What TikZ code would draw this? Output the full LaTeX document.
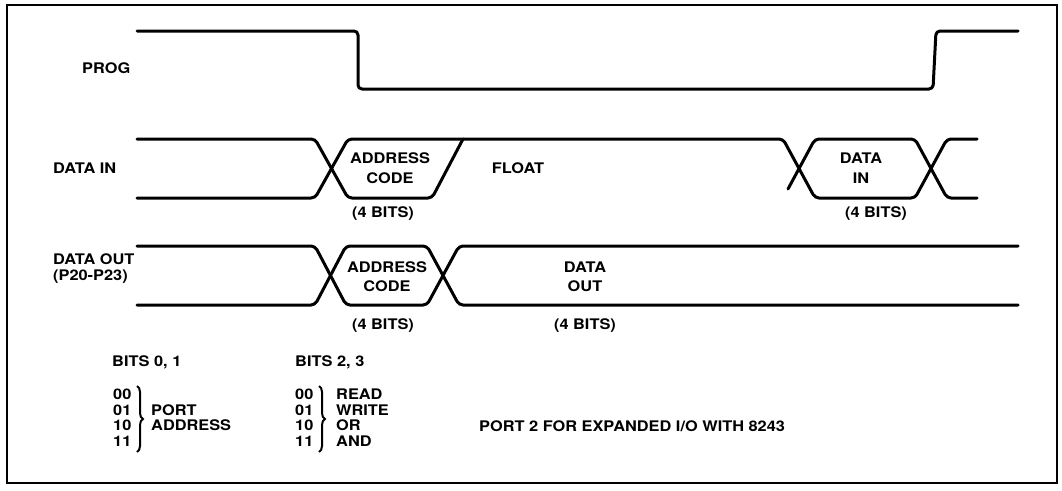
\documentclass[tikz,border=0pt]{standalone}
\usepackage{fontspec}
\setmainfont{TeX Gyre Heros}[FakeStretch=1.12]
\usetikzlibrary{decorations.pathreplacing}
\begin{document}
\begin{tikzpicture}[x=1pt,y=-1pt,
  wave/.style={line width=3pt,rounded corners=4pt,line cap=round,line join=round},
  lbl/.style={inner sep=0pt,text height=10.6pt,text depth=0pt,font=\fontsize{14.6}{16}\selectfont\bfseries},
  lw/.style={lbl,anchor=west},
  brc/.style={line width=2pt,decorate,decoration={brace,amplitude=6pt}}]
\useasboundingbox (0,0) rectangle (1062,490);
\draw[line width=2pt] (7,5) rectangle (1057,483);
% PROG
\draw[wave] (137,31) -- (358,31) -- (358,89) -- (933,89) -- (936,31) -- (1018,31);
\node[lw] (prog) at (82,68) {PROG};
% DATA IN
\draw[wave] (137,139) -- (315,139) -- (348,198) -- (432,198) -- (463,139);
\draw[wave] (137,198) -- (315,198) -- (348,139) -- (783,139) -- (815,198) -- (915,198) -- (947,139) -- (977,139);
\draw[wave] (788,189) -- (815,139) -- (915,139) -- (947,198) -- (977,198);
\node[lw] (datain) at (53,168) {DATA IN};
\node[lbl] (ac1a) at (390,158) {ADDRESS};
\node[lbl] (ac1b) at (390,178) {CODE};
\node[lbl] (b1) at (383,212) {(4 BITS)};
\node[lbl] (float) at (518,168) {FLOAT};
\node[lbl] (di1) at (861,158) {DATA};
\node[lbl] (di2) at (861,178) {IN};
\node[lbl] (b2) at (876,212) {(4 BITS)};
% DATA OUT
\draw[wave] (137,246) -- (315,246) -- (346,305) -- (427,305) -- (459,246) -- (1018,246);
\draw[wave] (137,305) -- (315,305) -- (346,246) -- (427,246) -- (459,305) -- (1018,305);
\node[lw] (dataout) at (53,259) {DATA OUT};
\node[lw] (pins) at (53,275) {(P20-P23)};
\node[lbl] (ac2a) at (387,267) {ADDRESS};
\node[lbl] (ac2b) at (387,286) {CODE};
\node[lbl] (b3) at (383,324) {(4 BITS)};
\node[lbl] (do1) at (585,267) {DATA};
\node[lbl] (do2) at (585,286) {OUT};
\node[lbl] (b4) at (585,324) {(4 BITS)};
% BITS tables
\node[lw] (bits01) at (112,361) {BITS 0, 1};
\node[lw] (n00a) at (113,394) {00};
\node[lw] (n01a) at (113,410) {01};
\node[lw] (n10a) at (113,425) {10};
\node[lw] (n11a) at (113,441) {11};
\coordinate (br1t) at (137,386);
\coordinate (br1b) at (137,452);
\draw[brc] (br1t) -- (br1b);
\node[lw] (port) at (151,410) {PORT};
\node[lw] (addr) at (151,425) {ADDRESS};
\node[lw] (bits23) at (295,361) {BITS 2, 3};
\node[lw] (n00b) at (295,394) {00};
\node[lw] (n01b) at (295,410) {01};
\node[lw] (n10b) at (295,425) {10};
\node[lw] (n11b) at (295,441) {11};
\coordinate (br2t) at (319,386);
\coordinate (br2b) at (319,452);
\draw[brc] (br2t) -- (br2b);
\node[lw] (rd) at (336,394) {READ};
\node[lw] (wr) at (336,410) {WRITE};
\node[lw] (or) at (336,425) {OR};
\node[lw] (and) at (336,441) {AND};
\node[lw] (port2) at (479,426) {PORT 2 FOR EXPANDED I/O WITH 8243};
\end{tikzpicture}
\end{document}
